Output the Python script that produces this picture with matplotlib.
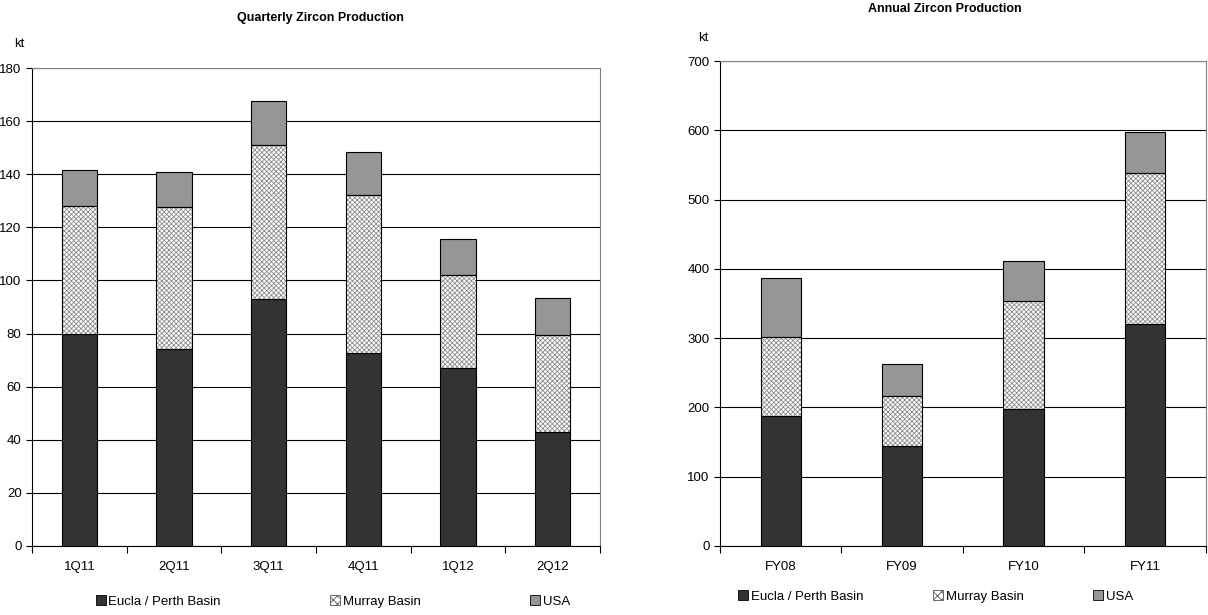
import numpy as np
import matplotlib
matplotlib.use("Agg")
import matplotlib.pyplot as plt
from matplotlib.patches import Patch

plt.rcParams['font.family'] = ['Liberation Sans', 'DejaVu Sans']
plt.rcParams['hatch.linewidth'] = 0.6

# quarterly production, kt
quarters = ['1Q11', '2Q11', '3Q11', '4Q11', '1Q12', '2Q12']
q_eucla = [80, 74, 93, 72.5, 67, 43]
q_murray = [48, 53.5, 58, 59.5, 35, 36.3]
q_usa = [13.7, 13.5, 16.5, 16.5, 13.7, 14.2]

# annual production, kt
years = ['FY08', 'FY09', 'FY10', 'FY11']
a_eucla = [188, 145, 198, 320]
a_murray = [113, 71, 156, 218]
a_usa = [86, 47, 58, 60]

series_names = ['Eucla / Perth Basin', 'Murray Basin', 'USA']
dark = '#333333'
mid = '#969696'
hatch_col = '#8c8c8c'


def stacked(ax, cats, eucla, murray, usa, width, ymax, step):
    x = np.arange(len(cats))
    eucla = np.array(eucla)
    murray = np.array(murray)
    usa = np.array(usa)
    ax.bar(x, eucla, width, color=dark, edgecolor='black', lw=0.8, zorder=3)
    # hatch drawn first in grey, outline on top in black
    ax.bar(x, murray, width, bottom=eucla, color='white', edgecolor=hatch_col,
           hatch='xxxxxxx', lw=0, zorder=3)
    ax.bar(x, murray, width, bottom=eucla, fill=False, edgecolor='black', lw=0.8, zorder=4)
    ax.bar(x, usa, width, bottom=eucla + murray, color=mid, edgecolor='black', lw=0.8, zorder=3)

    ax.set_xlim(-0.5, len(cats) - 0.5)
    ax.set_ylim(0, ymax)
    ax.set_yticks(np.arange(0, ymax + 1, step))
    ax.yaxis.grid(True, color='black', lw=0.8, zorder=0)
    ax.set_axisbelow(True)
    ax.set_xticks(x)
    ax.set_xticklabels(cats)
    ax.set_xticks(np.arange(-0.5, len(cats)), minor=True)
    ax.tick_params(axis='x', which='major', length=0, pad=11, labelsize=9.5)
    ax.tick_params(axis='x', which='minor', length=5, width=0.8)
    ax.tick_params(axis='y', length=4, width=0.8, labelsize=9.5)
    for s in ['top', 'right']:
        ax.spines[s].set_color('#808080')
    for s in ['left', 'bottom']:
        ax.spines[s].set_color('black')
    for s in ax.spines.values():
        s.set_linewidth(0.8)

    handles = [Patch(facecolor=dark, edgecolor='black', lw=0.6),
               Patch(facecolor='white', edgecolor='#555555', hatch='xxxx', lw=0.6),
               Patch(facecolor=mid, edgecolor='black', lw=0.6)]
    return handles


fig = plt.figure(figsize=(12.08, 6.15), dpi=100)

ax1 = fig.add_axes([0.0265, 0.1122, 0.4702, 0.7772])
h = stacked(ax1, quarters, q_eucla, q_murray, q_usa, 0.37, 180, 20)
fig.text(0.265, 0.97, 'Quarterly Zircon Production', ha='center', va='center',
         fontsize=9, fontweight='bold')
fig.text(0.012, 0.928, 'kt', ha='left', va='center', fontsize=9.5)
fig.legend(h, series_names, loc='center', bbox_to_anchor=(0.2755, 0.022), ncol=3,
           frameon=False, fontsize=9.5, handlelength=0.75, handleheight=0.75,
           handletextpad=0.2, columnspacing=8.3)

ax2 = fig.add_axes([0.596, 0.1122, 0.402, 0.7886])
h = stacked(ax2, years, a_eucla, a_murray, a_usa, 0.33, 700, 100)
fig.text(0.782, 0.985, 'Annual Zircon Production', ha='center', va='center',
         fontsize=9, fontweight='bold')
fig.text(0.578, 0.938, 'kt', ha='left', va='center', fontsize=9.5)
fig.legend(h, series_names, loc='center', bbox_to_anchor=(0.7745, 0.030), ncol=3,
           frameon=False, fontsize=9.5, handlelength=0.75, handleheight=0.75,
           handletextpad=0.2, columnspacing=5.3)

fig.savefig('out.png', dpi=100)
